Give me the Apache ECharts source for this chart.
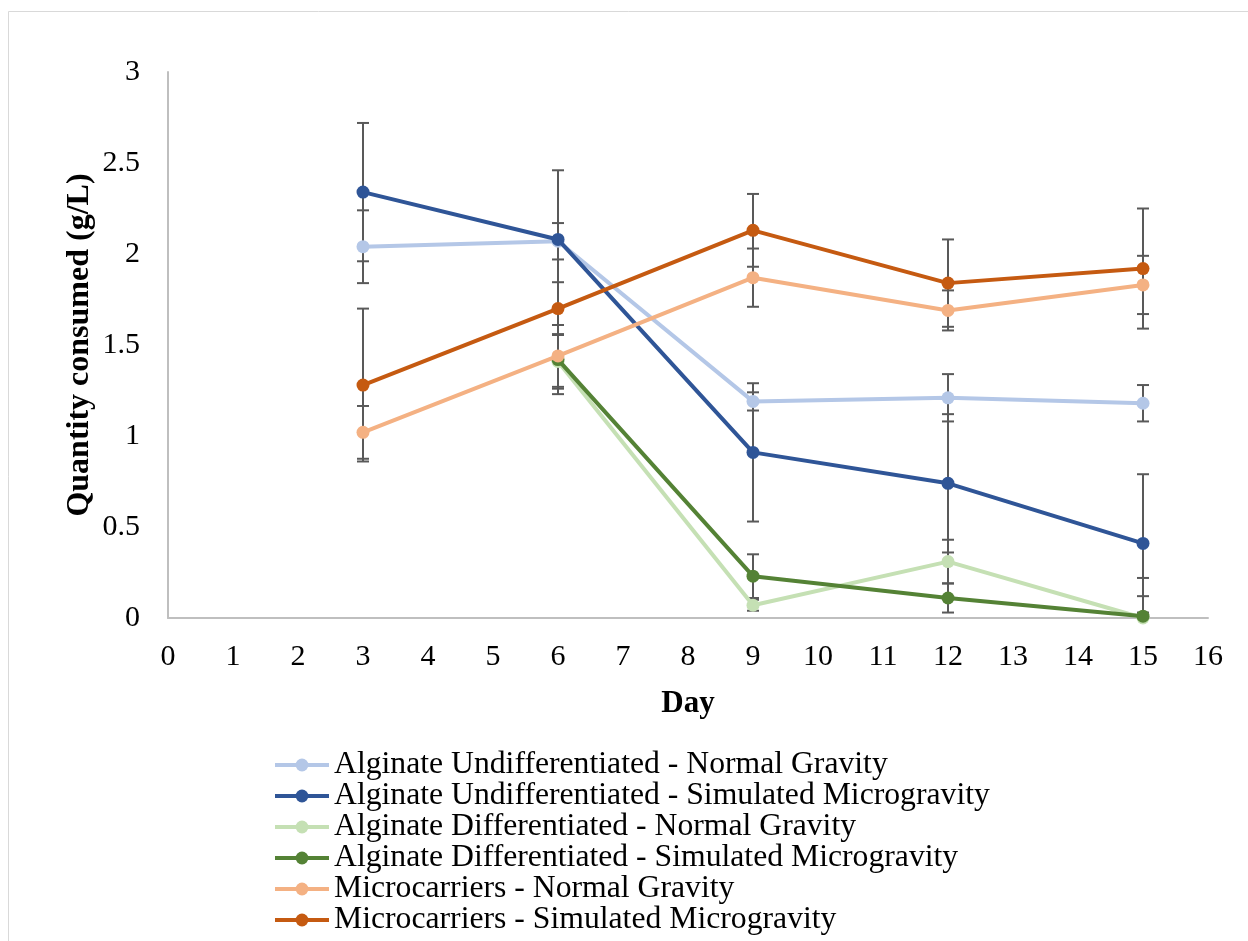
<!DOCTYPE html>
<html>
<head>
<meta charset="utf-8">
<script src="https://cdn.jsdelivr.net/npm/echarts@6/dist/echarts.min.js"></script>
<style>
html,body{margin:0;padding:0;background:#fff;}
#chart{width:1248px;height:941px;}
</style>
</head>
<body>
<div id="chart"></div>
<script>
const days = [3, 6, 9, 12, 15];
const seriesNames = [
  'Alginate Undifferentiated - Normal Gravity',
  'Alginate Undifferentiated - Simulated Microgravity',
  'Alginate Differentiated - Normal Gravity',
  'Alginate Differentiated - Simulated Microgravity',
  'Microcarriers - Normal Gravity',
  'Microcarriers - Simulated Microgravity'
];
const auNG = [2.04, 2.07, 1.19, 1.21, 1.18];
const auNGErr = [0.20, 0.10, 0.05, 0.13, 0.10];
const auSM = [2.34, 2.08, 0.91, 0.74, 0.41];
const auSMErr = [0.38, 0.38, 0.38, 0.38, 0.38];
const adNG = [null, 1.41, 0.07, 0.31, 0.00];
const adNGErr = [null, 0.15, 0.03, 0.12, 0.12];
const adSM = [null, 1.42, 0.23, 0.11, 0.01];
const adSMErr = [null, 0.19, 0.12, 0.08, 0.21];
const mcNG = [1.02, 1.44, 1.87, 1.69, 1.83];
const mcNGErr = [0.145, 0.17, 0.16, 0.11, 0.16];
const mcSM = [1.28, 1.70, 2.13, 1.84, 1.92];
const mcSMErr = [0.42, 0.145, 0.20, 0.24, 0.33];

const values = [auNG, auSM, adNG, adSM, mcNG, mcSM];
const errors = [auNGErr, auSMErr, adNGErr, adSMErr, mcNGErr, mcSMErr];
const colors = ['#B4C7E7', '#2F5597', '#C5E0B4', '#548235', '#F4B183', '#C55A11'];

const FONT = '"Liberation Serif", "Times New Roman", serif';

const lineSeries = values.map((vals, i) => ({
  name: seriesNames[i],
  type: 'line',
  data: days.map((d, j) => vals[j] == null ? null : [d, vals[j]]).filter(p => p),
  symbol: 'circle',
  symbolSize: 13,
  lineStyle: {width: 4, color: colors[i]},
  itemStyle: {color: colors[i]},
  z: 5 + i,
  animation: false
}));

const errData = [];
values.forEach((vals, i) => {
  days.forEach((d, j) => {
    if (vals[j] != null && errors[i][j] != null) {
      errData.push([d, vals[j] - errors[i][j], vals[j] + errors[i][j]]);
    }
  });
});

const errSeries = {
  type: 'custom',
  name: 'err',
  data: errData,
  z: 3,
  silent: true,
  animation: false,
  renderItem: function (params, api) {
    const x = api.value(0);
    const low = api.value(1);
    const clipped = low < 0;
    const lo = api.coord([x, clipped ? 0 : low]);
    const hi = api.coord([x, api.value(2)]);
    const hw = 6;
    const st = {stroke: '#595959', lineWidth: 2};
    const children = [
      {type: 'line', shape: {x1: lo[0], y1: lo[1], x2: hi[0], y2: hi[1]}, style: st},
      {type: 'line', shape: {x1: hi[0] - hw, y1: hi[1], x2: hi[0] + hw, y2: hi[1]}, style: st}
    ];
    if (!clipped) {
      children.push({type: 'line', shape: {x1: lo[0] - hw, y1: lo[1], x2: lo[0] + hw, y2: lo[1]}, style: st});
    }
    return {type: 'group', children: children};
  }
};

const chart = echarts.init(document.getElementById('chart'), null, {renderer: 'canvas'});
chart.setOption({
  backgroundColor: '#fff',
  animation: false,
  graphic: [{
    type: 'rect',
    shape: {x: 8.5, y: 11.5, width: 1260, height: 960},
    style: {fill: 'none', stroke: '#D9D9D9', lineWidth: 1},
    silent: true
  }],
  grid: {left: 168, right: 40, top: 72, bottom: 323, containLabel: false},
  xAxis: {
    type: 'value',
    min: 0, max: 16, interval: 1,
    name: 'Day',
    nameLocation: 'middle',
    nameGap: 70,
    nameMoveOverlap: false,
    nameTextStyle: {fontFamily: FONT, fontSize: 31, fontWeight: 'bold', color: '#000'},
    axisLine: {show: true, lineStyle: {color: '#BFBFBF', width: 2}},
    axisTick: {show: false},
    splitLine: {show: false},
    axisLabel: {fontFamily: FONT, fontSize: 30, color: '#000', margin: 24}
  },
  yAxis: {
    type: 'value',
    min: 0, max: 3, interval: 0.5,
    name: 'Quantity consumed (g/L)',
    nameLocation: 'middle',
    nameGap: 72,
    nameMoveOverlap: false,
    nameRotate: 90,
    nameTextStyle: {fontFamily: FONT, fontSize: 32, fontWeight: 'bold', color: '#000'},
    axisLine: {show: true, lineStyle: {color: '#BFBFBF', width: 2}},
    axisTick: {show: false},
    splitLine: {show: false},
    axisLabel: {fontFamily: FONT, fontSize: 30, color: '#000', margin: 28}
  },
  legend: {
    data: seriesNames,
    orient: 'vertical',
    left: 268,
    top: 744,
    height: 195,
    itemWidth: 54,
    itemHeight: 16,
    itemGap: -1,
    lineStyle: {width: 4},
    textStyle: {fontFamily: FONT, fontSize: 31.7, lineHeight: 30, color: '#000'}
  },
  series: [errSeries].concat(lineSeries)
});
</script>
</body>
</html>
